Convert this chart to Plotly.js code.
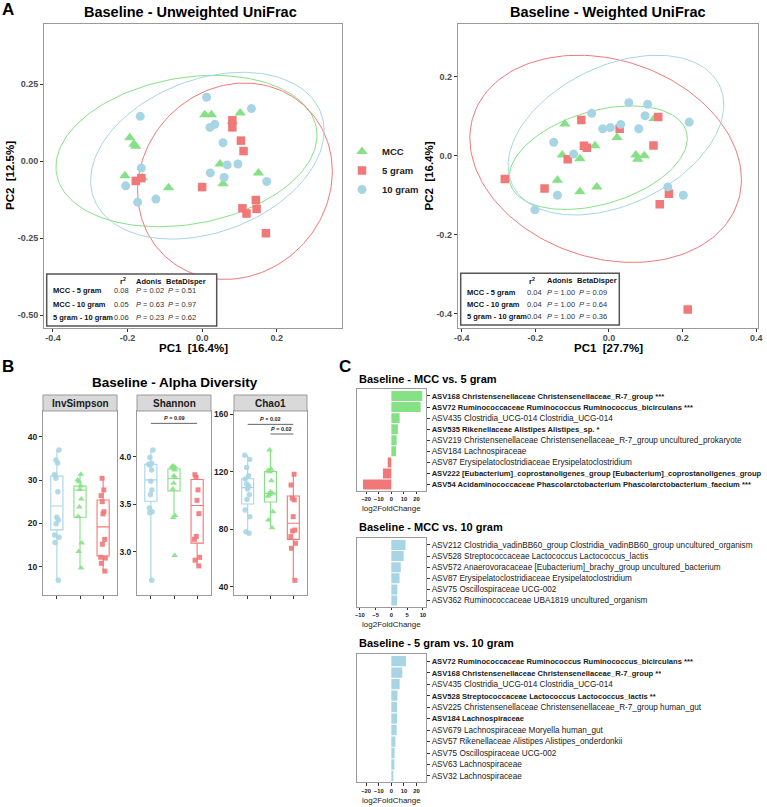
<!DOCTYPE html>
<html><head><meta charset="utf-8">
<script src="https://cdn.plot.ly/plotly-3.0.1.min.js"></script>
<style>html,body{margin:0;padding:0;background:#fff}#chart{width:767px;height:807px}</style>
</head><body><div id="chart"></div>
<script>
// ================= DATA =================
// Panel A - Unweighted UniFrac PCoA (PC1, PC2)
const unwMccX = [0.007,0.025,0.102,0.081,-0.194,-0.183,-0.178,0.048,-0.207,-0.160,0.151,0.056,-0.090];
const unwMccY = [0.151,0.151,0.157,0.130,0.076,0.055,0.049,-0.009,-0.047,-0.054,-0.038,-0.073,-0.086];
const unw5gX  = [0.081,0.081,0.104,0.111,-0.178,-0.163,0.000,0.144,0.108,0.146,0.119,0.171];
const unw5gY  = [0.133,0.110,0.067,0.033,-0.064,-0.055,-0.084,-0.126,-0.153,-0.155,-0.170,-0.234];
const unw10gX = [0.012,0.132,-0.166,0.034,0.021,0.056,-0.163,0.067,0.096,0.022,0.059,0.173,-0.205,-0.124,-0.173];
const unw10gY = [0.208,0.171,0.146,0.120,0.110,0.060,-0.022,-0.012,-0.009,-0.038,-0.053,-0.066,-0.080,-0.123,-0.133];
// Panel A - Weighted UniFrac PCoA
const wMccX = [-0.120,0.123,0.022,-0.038,-0.127,-0.079,0.073,0.096,0.078,-0.140,-0.079,-0.033];
const wMccY = [0.080,0.094,0.046,0.025,0.002,-0.008,0.002,0.000,-0.009,-0.062,-0.091,-0.079];
const w5gX  = [-0.075,0.134,0.029,-0.068,-0.060,0.121,-0.112,-0.283,-0.175,0.163,0.138,0.214];
const w5gY  = [0.090,0.098,0.068,0.025,0.020,0.026,-0.009,-0.059,-0.083,-0.096,-0.123,-0.389];
const w10gX = [0.054,0.105,-0.047,0.098,0.218,-0.017,0.004,0.032,0.081,-0.150,-0.096,0.160,0.202,-0.140,-0.201];
const w10gY = [0.134,0.130,0.107,0.101,0.085,0.068,0.071,0.079,0.068,0.034,0.004,-0.079,-0.100,-0.100,-0.137];
// 95% ellipses: centre, half-width, half-height, tilt (correlation); order MCC, 5 gram, 10 gram
const ellGroups = ["MCC","5 gram","10 gram"];
const unwEllCx = [-0.042, 0.088, 0.014];
const unwEllCy = [0.033, -0.065, 0.018];
const unwEllRx = [0.350, 0.261, 0.313];
const unwEllRy = [0.246, 0.319, 0.271];
const unwEllRho = [0.21, 0.10, 0.30];
const wEllCx = [-0.029, -0.009, 0.019];
const wEllCy = [-0.005, -0.008, 0.052];
const wEllRx = [0.242, 0.369, 0.293];
const wEllRy = [0.131, 0.262, 0.202];
const wEllRho = [0.37, -0.20, 0.38];
// Statistics tables
const tableCmp = ["MCC - 5 gram","MCC - 10 gram","5 gram - 10 gram"];
const unwR2 = [0.08,0.05,0.06];
const unwAdonisP = [0.02,0.63,0.23];
const unwBetaP = [0.51,0.97,0.62];
const wR2 = [0.04,0.04,0.04];
const wAdonisP = [1.00,1.00,1.00];
const wBetaP = [0.09,0.64,0.36];

// Panel B - Alpha diversity (group order on each facet)
const alphaGroups = ["10 gram","MCC","5 gram"];
const invSimpson10g = [36.9,34.6,33.9,31.2,30.4,27.3,21.4,20.8,19.9,17.3,16.8,15.6,6.9];
const invSimpsonMcc = [31.3,30.0,29.6,28.6,27.8,25.6,23.8,21.6,15.5,13.5,9.7];
const invSimpson5g  = [30.4,27.7,26.4,25.0,22.7,22.2,16.3,15.2,12.2,12.0,10.8,9.0];
const invSimpsonQ1  = [18.5,21.4,12.5];
const invSimpsonMed = [24.0,27.7,19.2];
const invSimpsonQ3  = [30.9,28.6,25.4];
const invSimpsonLo  = [6.9,9.7,9.0];
const invSimpsonHi  = [36.9,31.3,30.4];
const shannon10g = [4.07,3.99,3.93,3.92,3.91,3.86,3.74,3.65,3.60,3.46,3.42,3.41,2.70];
const shannonMcc = [3.90,3.89,3.89,3.88,3.86,3.80,3.78,3.72,3.66,3.38,3.36,2.96];
const shannon5g  = [3.81,3.78,3.65,3.54,3.40,3.16,3.13,2.94,2.91,2.85];
const shannonQ1  = [3.53,3.64,3.09];
const shannonMed = [3.755,3.77,3.485];
const shannonQ3  = [3.92,3.87,3.76];
const shannonLo  = [2.70,3.36,2.85];
const shannonHi  = [4.07,3.90,3.81];
const chao10g = [131.5,128.5,123,117.3,115,111.5,110,108,104,100.7,93.4,88.8,78.3,77.2];
const chaoMcc = [135.2,121.7,121,120,113.8,106.2,105,104,103,92.3,86.5,81.1];
const chao5g  = [118.3,110.8,101.6,100.5,88.8,79.5,78.8,74.9,70.3,66.8,44.5];
const chaoQ1  = [97.6,99.0,73.0];
const chaoMed = [109,105,84.2];
const chaoQ3  = [115.2,120.1,103.2];
const chaoLo  = [77.2,81.1,44.5];
const chaoHi  = [131.5,135.2,118.3];
// significance brackets
const sigFacet = ["Shannon","Chao1","Chao1"];
const sigFrom  = ["10 gram","10 gram","MCC"];
const sigTo    = ["5 gram","5 gram","5 gram"];
const sigY     = [4.35,153.0,146.3];
const sigP     = ["0.09","0.02","0.02"];

// Panel C - DESeq2 log2 fold changes
const c1Names = ["ASV168 Christensenellaceae Christensenellaceae_R-7_group ***",
 "ASV72 Ruminococcaceae Ruminococcus Ruminococcus_bicirculans ***",
 "ASV435 Clostridia_UCG-014 Clostridia_UCG-014",
 "ASV535 Rikenellaceae Alistipes Alistipes_sp. *",
 "ASV219 Christensenellaceae Christensenellaceae_R-7_group uncultured_prokaryote",
 "ASV184 Lachnospiraceae",
 "ASV87 Erysipelatoclostridiaceae Erysipelatoclostridium",
 "ASV222 [Eubacterium]_coprostanoligenes_group [Eubacterium]_coprostanoligenes_group",
 "ASV54 Acidaminococcaceae Phascolarctobacterium Phascolarctobacterium_faecium ***"];
const c1Lfc  = [24.6,23.3,6.6,5.2,4.2,3.7,-2.9,-6.7,-22.5];
const c1Bold = [1,1,0,1,0,0,0,1,1];
const c2Names = ["ASV212 Clostridia_vadinBB60_group Clostridia_vadinBB60_group uncultured_organism",
 "ASV528 Streptococcaceae Lactococcus Lactococcus_lactis",
 "ASV572 Anaerovoracaceae [Eubacterium]_brachy_group uncultured_bacterium",
 "ASV87 Erysipelatoclostridiaceae Erysipelatoclostridium",
 "ASV75 Oscillospiraceae UCG-002",
 "ASV362 Ruminococcaceae UBA1819 uncultured_organism"];
const c2Lfc  = [4.5,3.9,3.0,2.6,1.9,1.8];
const c2Bold = [0,0,0,0,0,0];
const c3Names = ["ASV72 Ruminococcaceae Ruminococcus Ruminococcus_bicirculans ***",
 "ASV168 Christensenellaceae Christensenellaceae_R-7_group **",
 "ASV435 Clostridia_UCG-014 Clostridia_UCG-014",
 "ASV528 Streptococcaceae Lactococcus Lactococcus_lactis **",
 "ASV225 Christensenellaceae Christensenellaceae_R-7_group human_gut",
 "ASV184 Lachnospiraceae",
 "ASV679 Lachnospiraceae Moryella human_gut",
 "ASV57 Rikenellaceae Alistipes Alistipes_onderdonkii",
 "ASV75 Oscillospiraceae UCG-002",
 "ASV63 Lachnospiraceae",
 "ASV32 Lachnospiraceae"];
const c3Lfc  = [11.6,8.7,6.6,4.8,4.5,4.5,4.2,3.2,2.6,2.4,1.6];
const c3Bold = [1,1,0,1,0,1,0,0,0,0,0];

// ================= STYLE / LAYOUT =================
const W = 767, H = 807;
const px = v => v / W;
const py = v => 1 - v / H;
const FONT = 'Liberation Sans, Arial, Helvetica, sans-serif';
const COL = {"MCC":"#86E186","5 gram":"#F07878","10 gram":"#A8D5E4"};
const SYM = {"MCC":"triangle-up","5 gram":"square","10 gram":"circle"};
const MSIZE = {"MCC":10,"5 gram":8.5,"10 gram":9};
const FRAME = '#9a9a9a';

const traces = [];
const annotations = [];
const shapes = [];

function ellipseTrace(cx, cy, rx, ry, rho, color, xa, ya) {
  const n = 160, xs = [], ys = [], s = Math.sqrt(1 - rho * rho);
  for (let i = 0; i <= n; i++) {
    const t = 2 * Math.PI * i / n;
    xs.push(cx + rx * Math.cos(t));
    ys.push(cy + ry * (rho * Math.cos(t) + s * Math.sin(t)));
  }
  return {type:'scatter', mode:'lines', x:xs, y:ys, xaxis:xa, yaxis:ya,
          line:{color:color, width:1}, hoverinfo:'skip', showlegend:false};
}

// ---- Panel A ----
const unwPts = {"MCC":[unwMccX,unwMccY],"5 gram":[unw5gX,unw5gY],"10 gram":[unw10gX,unw10gY]};
const wPts = {"MCC":[wMccX,wMccY],"5 gram":[w5gX,w5gY],"10 gram":[w10gX,w10gY]};
ellGroups.forEach((g, i) => {
  traces.push(ellipseTrace(unwEllCx[i], unwEllCy[i], unwEllRx[i], unwEllRy[i], unwEllRho[i], COL[g], 'x', 'y'));
  traces.push(ellipseTrace(wEllCx[i], wEllCy[i], wEllRx[i], wEllRy[i], wEllRho[i], COL[g], 'x2', 'y2'));
});
ellGroups.forEach(g => {
  traces.push({type:'scatter', mode:'markers', name:g, legendgroup:g, showlegend:true,
    x:unwPts[g][0], y:unwPts[g][1], xaxis:'x', yaxis:'y', hoverinfo:'skip',
    marker:{symbol:SYM[g], size:MSIZE[g], color:COL[g], line:{width:0}}});
});
ellGroups.forEach(g => {
  traces.push({type:'scatter', mode:'markers', name:g, legendgroup:g, showlegend:false,
    x:wPts[g][0], y:wPts[g][1], xaxis:'x2', yaxis:'y2', hoverinfo:'skip',
    marker:{symbol:SYM[g], size:MSIZE[g], color:COL[g], line:{width:0}}});
});

function ann(x, y, text, opts) {
  annotations.push(Object.assign({xref:'paper', yref:'paper', x:px(x), y:py(y), text:text,
    showarrow:false, xanchor:'center', yanchor:'middle', font:{family:FONT, size:10, color:'#000'}}, opts || {}));
}

// stats tables
function statTable(box, labelX, headX, colX, headY, rowY, r2, adonis, beta) {
  shapes.push({type:'rect', xref:'paper', yref:'paper', x0:px(box[0]), x1:px(box[2]), y0:py(box[3]), y1:py(box[1]),
    line:{color:'#555', width:1.5}, fillcolor:'#fff', layer:'above'});
  const hf = {family:FONT, size:7.5, color:'#111', weight:'bold'};
  ann(headX[0], headY, 'r<sup>2</sup>', {font:hf});
  ann(headX[1], headY, 'Adonis', {font:hf});
  ann(headX[2], headY, 'BetaDisper', {font:hf});
  const vf = {family:FONT, size:7.5, color:'#333'};
  tableCmp.forEach((c, i) => {
    ann(labelX, rowY[i], c, {xanchor:'left', font:hf});
    ann(colX[0], rowY[i], r2[i].toFixed(2), {font:vf});
    ann(colX[1], rowY[i], '<i>P</i> = ' + adonis[i].toFixed(2), {font:vf});
    ann(colX[2], rowY[i], '<i>P</i> = ' + beta[i].toFixed(2), {font:vf});
  });
}
statTable([46.7,274,216.7,326], 50.7, [123.3,148.3,185.7], [121,149.7,181.7], 281, [291,304,317.3], unwR2, unwAdonisP, unwBetaP);
statTable([460.7,273.3,619.3,325], 464.7, [531.7,559.3,596.7], [534,560.8,593.3], 280.7, [292.7,304.3,316.7], wR2, wAdonisP, wBetaP);

// titles panel A
ann(190, 12, 'Baseline - Unweighted UniFrac', {font:{family:FONT, size:14.5, weight:'bold', color:'#000'}});
ann(608, 11.5, 'Baseline - Weighted UniFrac', {font:{family:FONT, size:14.5, weight:'bold', color:'#000'}});
ann(193, 348, 'PC1  [16.4%]', {font:{family:FONT, size:11.5, weight:'bold', color:'#000'}});
ann(608, 348, 'PC1  [27.7%]', {font:{family:FONT, size:11.5, weight:'bold', color:'#000'}});
ann(10, 176, 'PC2  [12.5%]', {textangle:-90, font:{family:FONT, size:11.5, weight:'bold', color:'#000'}});
ann(428.5, 176, 'PC2  [16.4%]', {textangle:-90, font:{family:FONT, size:11.5, weight:'bold', color:'#000'}});
ann(8, 9, 'A', {font:{family:FONT, size:17, weight:'bold', color:'#000'}});
ann(8, 367, 'B', {font:{family:FONT, size:17, weight:'bold', color:'#000'}});
ann(345, 367, 'C', {font:{family:FONT, size:17, weight:'bold', color:'#000'}});

// ---- Panel B ----
const facets = [
  {name:'InvSimpson', xa:'x3', ya:'y3', data:[invSimpson10g, invSimpsonMcc, invSimpson5g], q1:invSimpsonQ1, med:invSimpsonMed, q3:invSimpsonQ3, lo:invSimpsonLo, hi:invSimpsonHi},
  {name:'Shannon', xa:'x4', ya:'y4', data:[shannon10g, shannonMcc, shannon5g], q1:shannonQ1, med:shannonMed, q3:shannonQ3, lo:shannonLo, hi:shannonHi},
  {name:'Chao1', xa:'x5', ya:'y5', data:[chao10g, chaoMcc, chao5g], q1:chaoQ1, med:chaoMed, q3:chaoQ3, lo:chaoLo, hi:chaoHi}
];
const BSIZE = {"MCC":6,"5 gram":5,"10 gram":5.5};
facets.forEach(f => {
  alphaGroups.forEach((g, i) => {
    traces.push({type:'box', x:[g], q1:[f.q1[i]], median:[f.med[i]], q3:[f.q3[i]],
      lowerfence:[f.lo[i]], upperfence:[f.hi[i]], boxpoints:false, xaxis:f.xa, yaxis:f.ya,
      line:{color:COL[g], width:1.1}, fillcolor:'rgba(255,255,255,0)', whiskerwidth:0,
      hoverinfo:'skip', showlegend:false});
    traces.push({type:'box', x:f.data[i].map(() => g), y:f.data[i], boxpoints:'all', jitter:0.55, pointpos:0,
      xaxis:f.xa, yaxis:f.ya, line:{color:'rgba(0,0,0,0)', width:0}, fillcolor:'rgba(0,0,0,0)', whiskerwidth:0,
      marker:{symbol:SYM[g], size:BSIZE[g], color:COL[g], opacity:0.9, line:{width:0}},
      hoverinfo:'skip', showlegend:false});
  });
});
sigFacet.forEach((fn, k) => {
  const f = facets.find(q => q.name === fn);
  traces.push({type:'scatter', mode:'lines', x:[sigFrom[k], sigTo[k]], y:[sigY[k], sigY[k]],
    xaxis:f.xa, yaxis:f.ya, line:{color:'#222', width:0.7}, hoverinfo:'skip', showlegend:false});
  const mid = (alphaGroups.indexOf(sigFrom[k]) + alphaGroups.indexOf(sigTo[k])) / 2;
  annotations.push({xref:f.xa, yref:f.ya, x:mid, y:sigY[k], text:'<i>P</i> = ' + sigP[k], showarrow:false,
    xanchor:'center', yanchor:'bottom', yshift:0, font:{family:FONT, size:5.5, weight:'bold', color:'#222'}});
});
ann(175, 383, 'Baseline - Alpha Diversity', {font:{family:FONT, size:13.5, weight:'bold', color:'#000'}});
const stripX = [[43,117],[137,211],[234,307]];
facets.forEach((f, i) => {
  shapes.push({type:'rect', xref:'paper', yref:'paper', x0:px(stripX[i][0]), x1:px(stripX[i][1]), y0:py(411), y1:py(395),
    line:{color:FRAME, width:1}, fillcolor:'#D9D9D9', layer:'above'});
  ann((stripX[i][0] + stripX[i][1]) / 2, 403.5, f.name, {font:{family:FONT, size:10, weight:'bold', color:'#1a1a1a'}});
});

// ---- Panel C ----
const cPanels = [
  {xa:'x6', ya:'y6', names:c1Names, lfc:c1Lfc, bold:c1Bold, signColor:true},
  {xa:'x7', ya:'y7', names:c2Names, lfc:c2Lfc, bold:c2Bold, signColor:false},
  {xa:'x8', ya:'y8', names:c3Names, lfc:c3Lfc, bold:c3Bold, signColor:false}
];
cPanels.forEach(p => {
  traces.push({type:'bar', orientation:'h', x:p.lfc, y:p.names, xaxis:p.xa, yaxis:p.ya, width:0.9,
    marker:{color:p.lfc.map(v => p.signColor ? (v >= 0 ? COL["MCC"] : COL["5 gram"]) : COL["10 gram"]), line:{width:0}},
    hoverinfo:'skip', showlegend:false});
});
ann(356.7, 378.5, 'Baseline - MCC vs. 5 gram', {xanchor:'left', font:{family:FONT, size:11, weight:'bold', color:'#000'}});
ann(356.7, 527, 'Baseline - MCC vs. 10 gram', {xanchor:'left', font:{family:FONT, size:11, weight:'bold', color:'#000'}});
ann(356.7, 643, 'Baseline - 5 gram vs. 10 gram', {xanchor:'left', font:{family:FONT, size:11, weight:'bold', color:'#000'}});
ann(391.3, 508.5, 'log2FoldChange', {font:{family:FONT, size:8, color:'#222'}});
ann(391.3, 624, 'log2FoldChange', {font:{family:FONT, size:8, color:'#222'}});
ann(391.3, 800, 'log2FoldChange', {font:{family:FONT, size:8, color:'#222'}});

// ---- Axes ----
const baseAx = {showgrid:false, zeroline:false, showline:true, mirror:true, linecolor:FRAME, linewidth:1,
  ticks:'outside', ticklen:3, tickcolor:'#333', tickwidth:1, automargin:false, fixedrange:true, tickangle:0};
function ax(extra) { return Object.assign({}, baseAx, extra); }
const aTickFont = {family:FONT, size:9, color:'#4d4d4d', weight:'bold'};
const bTickFont = {family:FONT, size:8.5, color:'#1a1a1a', weight:'bold'};
const cTickFont = {family:FONT, size:5.8, color:'#1a1a1a', weight:'bold'};
function cY(p, top, bot) {
  const n = p.names.length;
  return ax({domain:[py(bot), py(top)], anchor:p.xa, side:'right', type:'category', categoryorder:'array',
    categoryarray:p.names, range:[n - 1 + 0.55, -0.6], tickvals:p.names,
    ticktext:p.names.map((s, i) => p.bold[i] ? '<b><span style="font-size:7.6px">' + s + '</span></b>' : s),
    tickfont:{family:FONT, size:8.2, color:'#1a1a1a'}, ticklen:3});
}
const bX = d => ax({domain:[px(d[0]), px(d[1])], type:'category', categoryorder:'array', categoryarray:alphaGroups,
  range:[-0.6, 2.6], showticklabels:false, ticklen:3});

const layout = {
  width:W, height:H, margin:{l:0, r:0, t:0, b:0, pad:0}, paper_bgcolor:'#fff', plot_bgcolor:'#fff',
  font:{family:FONT, color:'#000'}, showlegend:true, boxmode:'overlay', boxgap:0.25,
  legend:{x:px(342), y:py(137), xanchor:'left', yanchor:'top', bgcolor:'rgba(0,0,0,0)', borderwidth:0,
    font:{family:FONT, size:9.5, weight:'bold', color:'#222'}, tracegroupgap:0, itemwidth:30},
  xaxis: ax({domain:[px(44), px(342)], anchor:'y', range:[-0.424, 0.375], tickvals:[-0.4,-0.2,0,0.2],
    ticktext:['-0.4','-0.2','0.0','0.2'], tickfont:aTickFont, ticklabelstandoff:-2}),
  yaxis: ax({domain:[py(328), py(24)], anchor:'x', range:[-0.542, 0.446], tickvals:[-0.5,-0.25,0,0.25],
    ticktext:['-0.50','-0.25','0.00','0.25'], tickfont:aTickFont}),
  xaxis2: ax({domain:[px(457.7), px(758)], anchor:'y2', range:[-0.411, 0.405], tickvals:[-0.4,-0.2,0,0.2,0.4],
    ticktext:['-0.4','-0.2','0.0','0.2','0.4'], tickfont:aTickFont, ticklabelstandoff:-2}),
  yaxis2: ax({domain:[py(327.7), py(24)], anchor:'x2', range:[-0.435, 0.333], tickvals:[-0.4,-0.2,0,0.2],
    ticktext:['-0.4','-0.2','0.0','0.2'], tickfont:aTickFont}),
  xaxis3: Object.assign(bX([43,117]), {anchor:'y3'}),
  yaxis3: ax({domain:[py(595), py(411)], anchor:'x3', range:[3.5, 45.9], tickvals:[10,20,30,40], tickfont:bTickFont}),
  xaxis4: Object.assign(bX([137,211]), {anchor:'y4'}),
  yaxis4: ax({domain:[py(595), py(411)], anchor:'x4', range:[2.544, 4.48], tickvals:[3.0,3.5,4.0],
    ticktext:['3.0','3.5','4.0'], tickfont:bTickFont}),
  xaxis5: Object.assign(bX([234,307]), {anchor:'y5'}),
  yaxis5: ax({domain:[py(595), py(411)], anchor:'x5', range:[34.3, 162.3], tickvals:[40,80,120,160], tickfont:bTickFont}),
  xaxis6: ax({domain:[px(356.7), px(426)], anchor:'y6', range:[-27.5, 27.5], tickvals:[-20,-10,0,10,20], tickfont:cTickFont, ticklen:2.5}),
  yaxis6: cY(cPanels[0], 389.3, 490.7),
  xaxis7: ax({domain:[px(356.7), px(426)], anchor:'y7', range:[-11, 11], tickvals:[-10,-5,0,5,10], tickfont:cTickFont, ticklen:2.5}),
  yaxis7: cY(cPanels[1], 538.3, 606.7),
  xaxis8: ax({domain:[px(356.7), px(426)], anchor:'y8', range:[-27.5, 27.5], tickvals:[-20,-10,0,10,20], tickfont:cTickFont, ticklen:2.5}),
  yaxis8: cY(cPanels[2], 654.3, 782.3),
  annotations: annotations,
  shapes: shapes
};

Plotly.newPlot('chart', traces, layout, {displayModeBar:false, staticPlot:true});
</script>
</body></html>
